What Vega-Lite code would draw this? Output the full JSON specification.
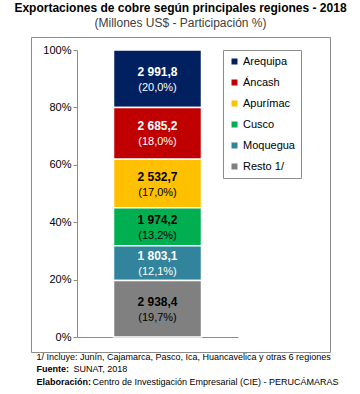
{
  "$schema": "https://vega.github.io/schema/vega-lite/v6.json",
  "width": 299,
  "height": 315,
  "autosize": {"type": "none"},
  "padding": {"left": 31, "top": 37, "right": 30, "bottom": 42},
  "config": {
    "locale": {"number": {"decimal": ",", "thousands": " ", "grouping": [3], "currency": ["", ""]}},
    "font": "Liberation Sans",
    "view": {"stroke": "#8c8c8c", "strokeWidth": 1},
    "axis": {"titleFontSize": 9, "titleColor": "#000000", "titleAlign": "left", "titleAnchor": null, "titleBaseline": "top", "titleAngle": 0, "grid": false}
  },
  "title": {
    "text": "Exportaciones de cobre según principales regiones - 2018",
    "subtitle": "(Millones US$ - Participación %)",
    "fontSize": 12,
    "fontWeight": "bold",
    "color": "#000000",
    "subtitleFontSize": 12,
    "subtitleColor": "#404040",
    "subtitlePadding": 3,
    "anchor": "middle",
    "offset": 7
  },
  "data": {
    "values": [
      {"region": "Arequipa", "valor": 2991.8, "orden": 6},
      {"region": "Áncash", "valor": 2685.2, "orden": 5},
      {"region": "Apurímac", "valor": 2532.7, "orden": 4},
      {"region": "Cusco", "valor": 1974.2, "orden": 3},
      {"region": "Moquegua", "valor": 1803.1, "orden": 2},
      {"region": "Resto 1/", "valor": 2938.4, "orden": 1}
    ]
  },
  "transform": [
    {"joinaggregate": [{"op": "sum", "field": "valor", "as": "total"}]},
    {"calculate": "datum.valor / datum.total", "as": "pct"},
    {"stack": "valor", "groupby": [], "sort": [{"field": "orden", "order": "ascending"}], "offset": "normalize", "as": ["y0", "y1"]},
    {"calculate": "(datum.y0 + datum.y1) / 2", "as": "ymid"},
    {"calculate": "'(' + replace(format(datum.pct, '.1%'), '.', ',') + ')'", "as": "pct_label"}
  ],
  "resolve": {"axis": {"x": "independent", "y": "independent"}},
  "layer": [
    {
      "mark": {"type": "bar", "stroke": "white", "strokeWidth": 1.5},
      "encoding": {
        "x": {
          "datum": "2018",
          "type": "nominal",
          "scale": {"range": [46, 207], "paddingOuter": 0.4148, "paddingInner": 0},
          "axis": {
            "orient": "bottom",
            "offset": -15,
            "labels": false,
            "ticks": false,
            "domainColor": "#8c8c8c",
            "title": "1/ Incluye: Junín, Cajamarca, Pasco, Ica, Huancavelica y otras 6 regiones",
            "titleFontWeight": "normal",
            "titleX": 5,
            "titleY": 15
          }
        },
        "y": {
          "field": "y0",
          "type": "quantitative",
          "scale": {"domain": [0, 1], "range": [300, 13], "nice": false},
          "axis": {
            "orient": "left",
            "offset": -46,
            "values": [0, 0.2, 0.4, 0.6, 0.8, 1],
            "format": ".0%",
            "labelFontSize": 11,
            "labelColor": "#000000",
            "tickColor": "#8c8c8c",
            "tickSize": 4,
            "domainColor": "#8c8c8c",
            "title": "Fuente:",
            "titleFontWeight": "bold",
            "titleX": -41,
            "titleY": 327.5
          }
        },
        "y2": {"field": "y1"},
        "color": {
          "field": "region",
          "type": "nominal",
          "scale": {
            "domain": ["Arequipa", "Áncash", "Apurímac", "Cusco", "Moquegua", "Resto 1/"],
            "range": ["#002060", "#C00000", "#FFC000", "#00B050", "#31849B", "#808080"]
          },
          "legend": {
            "orient": "none",
            "legendX": 192,
            "legendY": 13,
            "title": null,
            "strokeColor": "#8c8c8c",
            "fillColor": "white",
            "padding": 6,
            "symbolType": "square",
            "symbolSize": 36,
            "symbolStrokeWidth": 0,
            "labelFontSize": 11,
            "labelColor": "#000000",
            "labelOffset": 3,
            "rowPadding": 9
          }
        }
      }
    },
    {
      "mark": {"type": "text", "fontSize": 12, "fontWeight": "bold", "dy": -7, "baseline": "middle"},
      "encoding": {
        "x": {
          "datum": "2018",
          "type": "nominal",
          "axis": {
            "orient": "bottom",
            "offset": -15,
            "labels": false,
            "ticks": false,
            "domain": false,
            "title": "SUNAT, 2018",
            "titleFontWeight": "normal",
            "titleX": 42,
            "titleY": 27.5
          }
        },
        "y": {
          "field": "ymid",
          "type": "quantitative",
          "axis": {
            "orient": "left",
            "offset": -46,
            "labels": false,
            "ticks": false,
            "domain": false,
            "title": "Elaboración:",
            "titleFontWeight": "bold",
            "titleX": -41,
            "titleY": 340
          }
        },
        "text": {"field": "valor", "type": "quantitative", "format": ",.1f"},
        "color": {
          "condition": {"test": "indexof(['Arequipa','Áncash','Moquegua'], datum.region) >= 0", "value": "white"},
          "value": "black"
        }
      }
    },
    {
      "mark": {"type": "text", "fontSize": 11, "dy": 9, "baseline": "middle"},
      "encoding": {
        "x": {
          "datum": "2018",
          "type": "nominal",
          "axis": {
            "orient": "bottom",
            "offset": -15,
            "labels": false,
            "ticks": false,
            "domain": false,
            "title": "Centro de Investigación Empresarial (CIE) - PERUCÁMARAS",
            "titleFontWeight": "normal",
            "titleX": 61,
            "titleY": 40
          }
        },
        "y": {"field": "ymid", "type": "quantitative", "axis": null},
        "text": {"field": "pct_label", "type": "nominal"},
        "color": {
          "condition": {"test": "indexof(['Arequipa','Áncash','Moquegua'], datum.region) >= 0", "value": "white"},
          "value": "black"
        }
      }
    }
  ]
}
